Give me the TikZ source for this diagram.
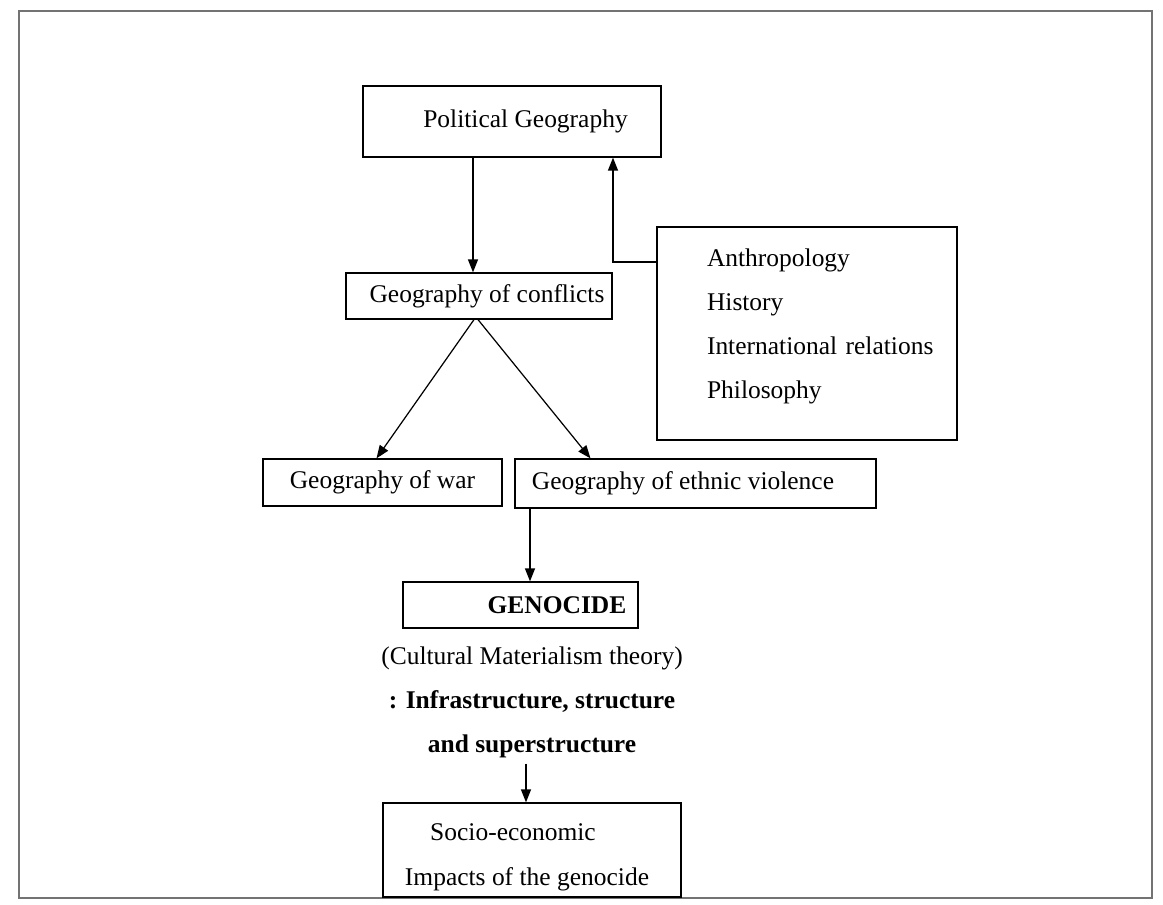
\documentclass[tikz,border=0pt]{standalone}
\usepackage{fontspec}
\setmainfont{Liberation Serif}
\usetikzlibrary{arrows.meta, calc}

\begin{document}
\begin{tikzpicture}[
    x=0.02cm, y=-0.02cm,
    every node/.style={font=\fontsize{14.5}{17}\selectfont},
    box/.style={draw, line width=0.7pt, inner sep=0pt, align=center},
    arrow/.style={-{Triangle[length=2.6mm, width=2mm]}, line width=0.7pt},
    outerframe/.style={draw=black!55, line width=0.6pt},
]
\useasboundingbox (0,0) rectangle (1163,905);
\draw[outerframe] (19,11) rectangle (1152,898);

% boxes
\node[box, minimum width=5.96cm, minimum height=1.42cm] (polgeo) at (512, 121.5) {\hspace*{0.54cm}Political Geography};
\node[box, minimum width=5.32cm, minimum height=0.92cm] (conflicts) at (479, 296) {\hspace*{0.32cm}Geography of conflicts};
\node[box, minimum width=6cm, minimum height=4.26cm, text width=4cm, align=left, font=\fontsize{14.5}{25}\selectfont] (fields) at (807, 333.5) {Anthropology\\History\\\mbox{International relations}\\Philosophy\rule[-0.4cm]{0pt}{0pt}};
\node[box, minimum width=4.78cm, minimum height=0.94cm] (war) at (382.5, 482.5) {Geography of war};
\node[box, minimum width=7.22cm, minimum height=0.98cm] (ethnic) at (695.5, 483.5) {Geography of ethnic violence\hspace*{0.5cm}};
\node[box, minimum width=4.7cm, minimum height=0.92cm, font=\fontsize{14.5}{17}\selectfont\bfseries] (genocide) at (520.5, 605) {\hspace*{1.46cm}GENOCIDE};
\node[align=center, font=\fontsize{14.5}{25}\selectfont] (theory) at (532, 702) {(Cultural Materialism theory)\\\textbf{: Infrastructure, structure}\\\textbf{and superstructure}};
\node[box, minimum width=5.96cm, minimum height=1.88cm, font=\fontsize{14.5}{25.5}\selectfont] (socio) at (532, 850) {\rule{0pt}{0.64cm}Socio-economic\hspace*{0.76cm}\\Impacts of the genocide\hspace*{0.2cm}};

% arrow positions
\coordinate (pgdown) at (473, 0);
\coordinate (bend) at (613, 262);
\coordinate (gendown) at (530, 0);
\coordinate (socdown) at (526, 0);

\draw[arrow] (pgdown |- polgeo.south) -- (pgdown |- conflicts.north);
\draw[arrow] (fields.west |- bend) -- (bend) -- (bend |- polgeo.south);
\draw[arrow] ($(conflicts.south)+(-5,0)$) -- ($(war.north)+(-6,0)$);
\draw[arrow] ($(conflicts.south)+(-1,0)$) -- ($(ethnic.north)+(-105,0)$);
\draw[arrow] (gendown |- ethnic.south) -- (gendown |- genocide.north);
\draw[arrow] (socdown |- theory.south) -- (socdown |- socio.north);

\end{tikzpicture}
\end{document}
